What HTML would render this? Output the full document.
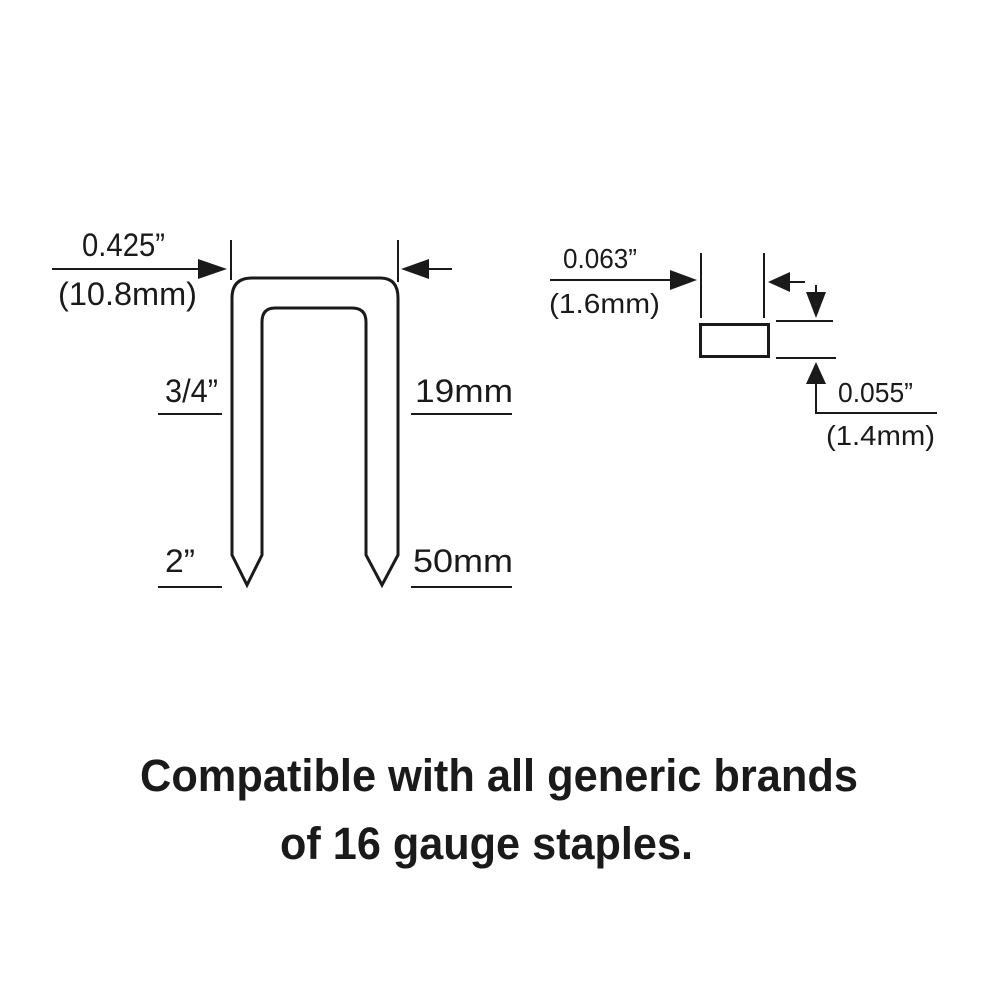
<!DOCTYPE html>
<html><head><meta charset="utf-8"><style>html,body{margin:0;padding:0;background:#fff}svg{display:block}</style></head>
<body>
<svg width="1000" height="1000" viewBox="0 0 1000 1000" xmlns="http://www.w3.org/2000/svg" font-family="Liberation Sans, Arial, sans-serif" fill="#1a1a1a">
<path d="M232,555 L232,298 Q232,278 252,278 L380,278 Q398,278 398,298 L398,555 L382,585 L366,555 L366,322 Q366,308 352,308 L275,308 Q262,308 262,322 L262,555 L247,585 Z" fill="none" stroke="#1a1a1a" stroke-width="3" stroke-linejoin="miter"/>
<line x1="52" y1="269" x2="205" y2="269" stroke="#1a1a1a" stroke-width="2"/>
<polygon points="198,259 227,269 198,279"/>
<line x1="231" y1="240" x2="231" y2="280" stroke="#1a1a1a" stroke-width="2"/>
<line x1="398" y1="240" x2="398" y2="282" stroke="#1a1a1a" stroke-width="2"/>
<polygon points="429,259 401,269 429,279"/>
<line x1="425" y1="269" x2="452" y2="269" stroke="#1a1a1a" stroke-width="2"/>
<g font-size="32">
<text x="82" y="256" textLength="83" lengthAdjust="spacingAndGlyphs">0.425”</text>
<text x="58" y="305" textLength="139" lengthAdjust="spacingAndGlyphs">(10.8mm)</text>
<text x="165" y="402" textLength="53" lengthAdjust="spacingAndGlyphs">3/4”</text>
<text x="415" y="402" textLength="98" lengthAdjust="spacingAndGlyphs">19mm</text>
<text x="165" y="572" textLength="30" lengthAdjust="spacingAndGlyphs">2”</text>
<text x="413" y="572" textLength="100" lengthAdjust="spacingAndGlyphs">50mm</text>
</g>
<line x1="158" y1="414" x2="222" y2="414" stroke="#1a1a1a" stroke-width="2"/>
<line x1="411" y1="414" x2="512" y2="414" stroke="#1a1a1a" stroke-width="2"/>
<line x1="158" y1="587" x2="222" y2="587" stroke="#1a1a1a" stroke-width="2"/>
<line x1="411" y1="587" x2="512" y2="587" stroke="#1a1a1a" stroke-width="2"/>
<line x1="550" y1="280" x2="675" y2="280" stroke="#1a1a1a" stroke-width="2"/>
<polygon points="670,270 697,280 670,290"/>
<line x1="701" y1="253" x2="701" y2="318" stroke="#1a1a1a" stroke-width="2"/>
<line x1="764" y1="253" x2="764" y2="318" stroke="#1a1a1a" stroke-width="2"/>
<polygon points="790,272 768,282 790,292"/>
<line x1="788" y1="282" x2="805" y2="282" stroke="#1a1a1a" stroke-width="2"/>
<rect x="700.5" y="324.5" width="68" height="32" fill="none" stroke="#1a1a1a" stroke-width="3"/>
<line x1="776" y1="321" x2="833" y2="321" stroke="#1a1a1a" stroke-width="2"/>
<line x1="776" y1="358" x2="836" y2="358" stroke="#1a1a1a" stroke-width="2"/>
<line x1="816" y1="285" x2="816" y2="296" stroke="#1a1a1a" stroke-width="2"/>
<polygon points="806,292 826,292 816,318"/>
<polygon points="806,384 826,384 816,362"/>
<polyline points="816,380 816,413 937,413" fill="none" stroke="#1a1a1a" stroke-width="2"/>
<g font-size="28">
<text x="563" y="268" textLength="74" lengthAdjust="spacingAndGlyphs">0.063”</text>
<text x="549" y="313" textLength="111" lengthAdjust="spacingAndGlyphs">(1.6mm)</text>
<text x="838" y="402" textLength="75" lengthAdjust="spacingAndGlyphs">0.055”</text>
<text x="826" y="445" textLength="109" lengthAdjust="spacingAndGlyphs">(1.4mm)</text>
</g>
<text x="140" y="791" font-size="45" font-weight="bold" textLength="718" lengthAdjust="spacingAndGlyphs">Compatible with all generic brands</text>
<text x="280" y="859" font-size="45" font-weight="bold" textLength="413" lengthAdjust="spacingAndGlyphs">of 16 gauge staples.</text>
</svg>
</body></html>
